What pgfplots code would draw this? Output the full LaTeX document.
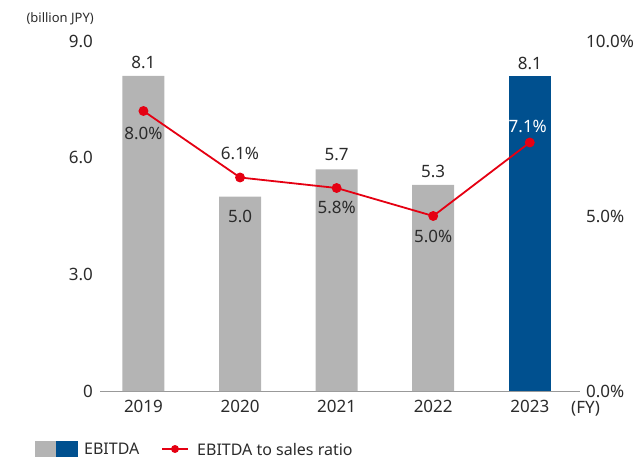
\documentclass[border=0pt]{standalone}
\usepackage{fontspec}
\setmainfont{Noto Sans}
\usepackage{pgfplots}
\pgfplotsset{compat=1.18}

\definecolor{barGray}{HTML}{B4B4B4}
\definecolor{barBlue}{HTML}{00508F}
\definecolor{lineRed}{HTML}{E50012}
\definecolor{txt}{HTML}{2B2B2B}

\begin{document}
\begin{tikzpicture}[font=\fontsize{17}{20}\selectfont, text=txt]
\useasboundingbox (0,0) rectangle (636pt,460pt);

% left axis: EBITDA bars
\begin{axis}[
  at={(100pt,69pt)}, anchor=south west,
  scale only axis, width=480pt, height=350pt,
  xmin=-0.45, xmax=4.52, ymin=0, ymax=9,
  axis x line*=bottom, axis y line*=left,
  y axis line style={draw=none},
  x axis line style={draw=gray!80, line width=0.8pt, -},
  major tick length=0pt,
  xtick={0,1,2,3,4}, xticklabels={2019,2020,2021,2022,2023},
  ytick={0,3,6,9}, yticklabels={0,3.0,6.0,9.0},
  /pgf/number format/assume math mode=true,
  xticklabel style={yshift=-6pt},
  yticklabel style={anchor=east, inner sep=0pt, xshift=-7pt},
  tick label style={text=txt},
  clip=false,
]
\addplot[ybar, bar width=42pt, bar shift=0pt, fill=barGray, draw=none]
  coordinates {(0,8.1) (1,5.0) (2,5.7) (3,5.3)};
\addplot[ybar, bar width=42pt, bar shift=0pt, fill=barBlue, draw=none]
  coordinates {(4,8.1)};
\node[yshift=14pt] at (axis cs:0,8.1) {8.1};
\node[yshift=-20pt] at (axis cs:1,5.0) {5.0};
\node[yshift=15pt] at (axis cs:2,5.7) {5.7};
\node[yshift=13pt] at (axis cs:3,5.3) {5.3};
\node[yshift=13pt] at (axis cs:4,8.1) {8.1};
\end{axis}

% right axis: EBITDA to sales ratio
\begin{axis}[
  at={(100pt,69pt)}, anchor=south west,
  scale only axis, width=480pt, height=350pt,
  xmin=-0.45, xmax=4.52, ymin=0, ymax=10,
  axis x line=none, axis y line*=right,
  y axis line style={draw=none},
  major tick length=0pt,
  ytick={0,5,10}, yticklabels={0.0\%,5.0\%,10.0\%},
  /pgf/number format/assume math mode=true,
  yticklabel style={anchor=west, inner sep=0pt, xshift=6pt},
  tick label style={text=txt},
  clip=false,
]
\addplot[lineRed, line width=1.8pt, mark=*, mark size=4pt,
  mark options={fill=lineRed, draw=lineRed}]
  coordinates {(0,8.0) (1,6.1) (2,5.8) (3,5.0) (4,7.1)};
\node[yshift=-22pt] at (axis cs:0,8.0) {8.0\%};
\node[yshift=24pt] at (axis cs:1,6.1) {6.1\%};
\node[yshift=-19pt] at (axis cs:2,5.8) {5.8\%};
\node[yshift=-20pt] at (axis cs:3,5.0) {5.0\%};
\node[yshift=16pt, xshift=-2pt, text=white] at (axis cs:4,7.1) {7.1\%};
\end{axis}

% unit labels
\node[anchor=east, inner sep=0pt, font=\fontsize{13}{15}\selectfont] at (94pt,441pt) {(billion JPY)};
\node[anchor=west, inner sep=0pt] at (571pt,51pt) {(FY)};

% legend
\fill[barGray] (35pt,3pt) rectangle (56pt,19pt);
\fill[barBlue] (56pt,3pt) rectangle (78pt,19pt);
\node[anchor=west, inner sep=0pt, font=\fontsize{16}{19}\selectfont] at (84pt,11pt) {EBITDA};
\draw[lineRed, line width=1.8pt] (162pt,11pt) -- (188pt,11pt);
\fill[lineRed] (175pt,11pt) circle (4pt);
\node[anchor=west, inner sep=0pt, font=\fontsize{16}{19}\selectfont] at (197pt,11pt) {EBITDA to sales ratio};
\end{tikzpicture}
\end{document}
